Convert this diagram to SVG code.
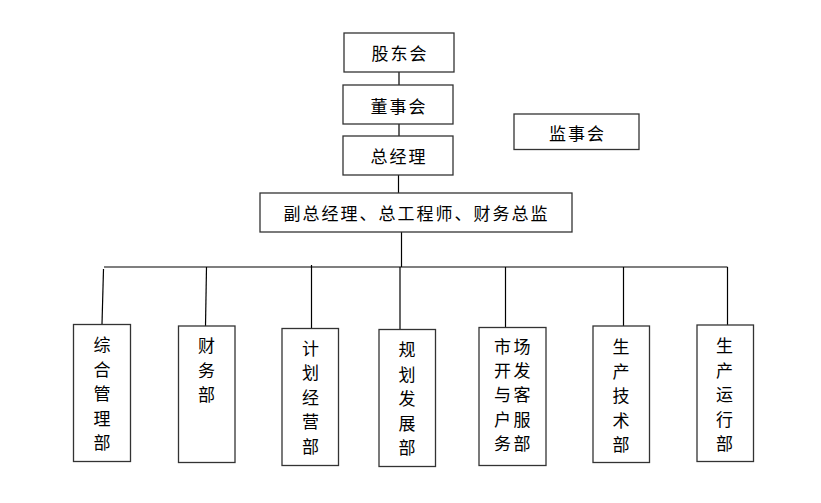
<svg xmlns="http://www.w3.org/2000/svg" width="821" height="503" viewBox="0 0 821 503">
<style>
.box{fill:#fff;stroke:#333;stroke-width:1.3}
.ln{stroke:#000;stroke-width:1.2;fill:none}
text{font-family:"Noto Sans CJK SC","Noto Sans CJK TC",sans-serif;font-size:17px;fill:#000;text-anchor:middle;dominant-baseline:central}
.h{letter-spacing:2px}
</style>
<rect width="821" height="503" fill="#fff"/>
<g id="connectors">
<line class="ln" x1="399" y1="72" x2="399" y2="85"/>
<line class="ln" x1="399" y1="124" x2="399" y2="136"/>
<line class="ln" x1="398.5" y1="175" x2="398.5" y2="193"/>
<line class="ln" x1="401.5" y1="232" x2="401.5" y2="267"/>
<line class="ln" x1="104" y1="267" x2="727.5" y2="267"/>
<line class="ln" x1="103.5" y1="269" x2="102" y2="324"/>
<line class="ln" x1="206.5" y1="267" x2="205.5" y2="326"/>
<line class="ln" x1="311.5" y1="265" x2="311.5" y2="328"/>
<line class="ln" x1="400" y1="267" x2="400" y2="329"/>
<line class="ln" x1="505.5" y1="267" x2="505.5" y2="327"/>
<line class="ln" x1="623.5" y1="267" x2="623.5" y2="326"/>
<line class="ln" x1="727.5" y1="267" x2="727.5" y2="325"/>
</g>
<g id="n-gudonghui"><rect class="box" x="344" y="33" width="110" height="39"/><text class="h" x="400" y="52">股东会</text></g>
<g id="n-dongshihui"><rect class="box" x="343" y="85" width="110" height="39"/><text class="h" x="399" y="105">董事会</text></g>
<g id="n-zongjingli"><rect class="box" x="343" y="136" width="110" height="39"/><text class="h" x="399" y="155">总经理</text></g>
<g id="n-jianshihui"><rect class="box" x="514" y="114" width="125" height="35.5"/><text class="h" x="577.5" y="132.5">监事会</text></g>
<g id="n-fuzong"><rect class="box" x="260" y="193" width="312" height="39"/><text class="h" x="416.5" y="212">副总经理、总工程师、财务总监</text></g>
<g id="n-zonghe"><rect class="box" x="73.5" y="324.5" width="57" height="137"/><text x="102" y="343"><tspan x="102">综</tspan><tspan x="102" dy="24.5">合</tspan><tspan x="102" dy="24.5">管</tspan><tspan x="102" dy="24.5">理</tspan><tspan x="102" dy="24.5">部</tspan></text></g>
<g id="n-caiwu"><rect class="box" x="178.5" y="326" width="56.5" height="136.5"/><text x="206.5" y="344"><tspan x="206.5">财</tspan><tspan x="206.5" dy="24.5">务</tspan><tspan x="206.5" dy="24.5">部</tspan></text></g>
<g id="n-jihua"><rect class="box" x="282" y="328.5" width="56.5" height="137"/><text x="310.5" y="346.5"><tspan x="310.5">计</tspan><tspan x="310.5" dy="24.5">划</tspan><tspan x="310.5" dy="24.5">经</tspan><tspan x="310.5" dy="24.5">营</tspan><tspan x="310.5" dy="24.5">部</tspan></text></g>
<g id="n-guihua"><rect class="box" x="379" y="329.5" width="56.5" height="137"/><text x="407" y="348"><tspan x="407">规</tspan><tspan x="407" dy="24.5">划</tspan><tspan x="407" dy="24.5">发</tspan><tspan x="407" dy="24.5">展</tspan><tspan x="407" dy="24.5">部</tspan></text></g>
<g id="n-shichang"><rect class="box" x="479" y="327.5" width="67" height="138"/><text x="502.5" y="345"><tspan x="502.5">市</tspan><tspan x="502.5" dy="24.2">开</tspan><tspan x="502.5" dy="24.2">与</tspan><tspan x="502.5" dy="24.2">户</tspan><tspan x="502.5" dy="24.2">务</tspan></text><text x="522" y="345"><tspan x="522">场</tspan><tspan x="522" dy="24.2">发</tspan><tspan x="522" dy="24.2">客</tspan><tspan x="522" dy="24.2">服</tspan><tspan x="522" dy="24.2">部</tspan></text></g>
<g id="n-shengchanjishu"><rect class="box" x="593" y="326" width="56.5" height="136.5"/><text x="621" y="345"><tspan x="621">生</tspan><tspan x="621" dy="24.5">产</tspan><tspan x="621" dy="24.5">技</tspan><tspan x="621" dy="24.5">术</tspan><tspan x="621" dy="24.5">部</tspan></text></g>
<g id="n-shengchanyunxing"><rect class="box" x="697" y="325" width="56.5" height="136.5"/><text x="724.5" y="344"><tspan x="724.5">生</tspan><tspan x="724.5" dy="24.5">产</tspan><tspan x="724.5" dy="24.5">运</tspan><tspan x="724.5" dy="24.5">行</tspan><tspan x="724.5" dy="24.5">部</tspan></text></g>
</svg>
